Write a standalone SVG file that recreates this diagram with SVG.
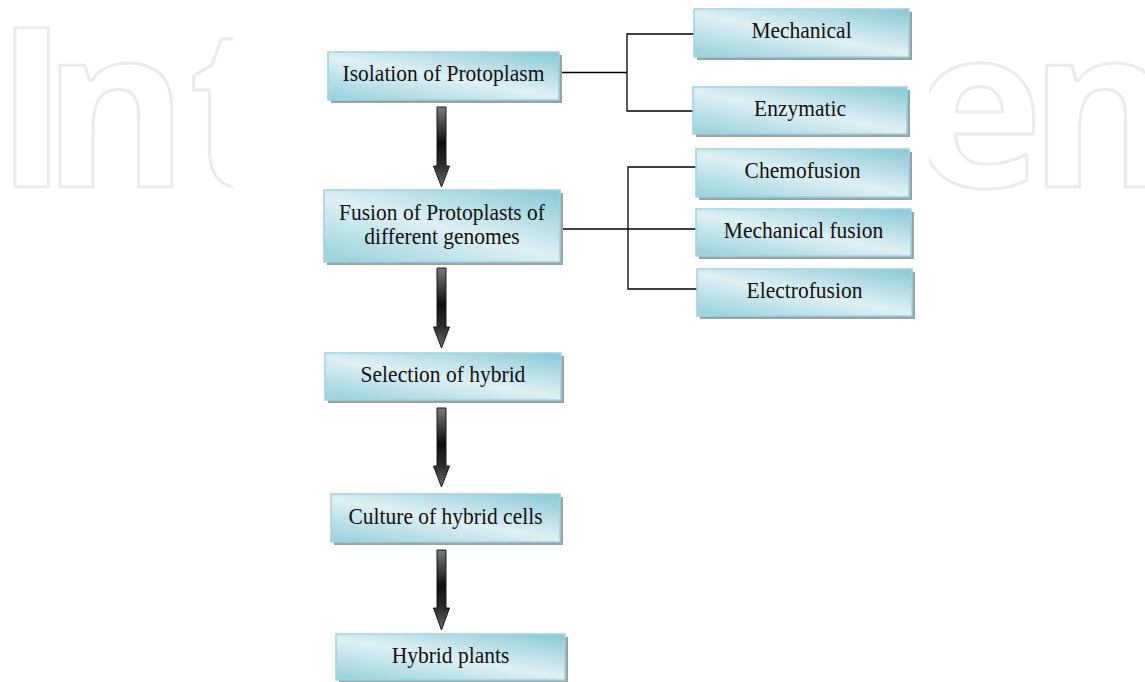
<svg xmlns="http://www.w3.org/2000/svg" width="1145" height="682" viewBox="0 0 1145 682">
  <defs>
    <linearGradient id="boxGrad" x1="1" y1="0" x2="0.15" y2="1">
      <stop offset="0" stop-color="#88c8d6"/>
      <stop offset="0.55" stop-color="#def0f5"/>
      <stop offset="1" stop-color="#9fd5e0"/>
    </linearGradient>
    <linearGradient id="arrowGrad" x1="0" y1="0" x2="0" y2="1">
      <stop offset="0" stop-color="#7a7a7a"/>
      <stop offset="0.45" stop-color="#0e0e0e"/>
      <stop offset="0.72" stop-color="#2a2a2a"/>
      <stop offset="1" stop-color="#6a6a6a"/>
    </linearGradient>
    <clipPath id="wmClip">
      <rect x="0" y="0" width="233" height="682"/>
      <rect x="929" y="0" width="216" height="682"/>
    </clipPath>
  </defs>
  <style>
    .shadow { fill: #97a3a6; }
    .box { fill: url(#boxGrad); stroke: #9fd3df; stroke-width: 1.5; }
    .label { font-family: "Liberation Serif", "Times New Roman", serif; font-size: 21.5px; fill: #111; text-anchor: middle; }
    .conn { fill: none; stroke: #000; stroke-width: 1.3; }
    .arrow { fill: url(#arrowGrad); stroke: #1a1a1a; stroke-width: 1; }
    .wm { font-family: "Open Sans", "Liberation Sans", sans-serif; font-size: 222px; font-weight: 700; fill: none; stroke: #ebebeb; stroke-width: 3; stroke-linejoin: round; }
  </style>

  <rect x="0" y="0" width="1145" height="682" fill="#ffffff"/>

  <g id="watermark" clip-path="url(#wmClip)">
    <text class="wm" x="-3" y="187" dx="-2 -26 0">Int</text>
    <text class="wm" x="905" y="187" dx="7 -14">en</text>
  </g>

  <g id="connectors">
    <path class="conn" d="M559,72.5 H627" stroke-width="2"/>
    <path class="conn" d="M694,34 H627 V111 H693"/>
    <path class="conn" d="M560,229 H696"/>
    <path class="conn" d="M696,167 H628 V289 H697"/>
    <path class="arrow" d="M437,107 H446 V166 H449.5 L441.5,187 L433.5,166 H437 Z"/>
    <path class="arrow" d="M437,268 H446 V327 H449.5 L441.5,348 L433.5,327 H437 Z"/>
    <path class="arrow" d="M437,408 H446 V466 H449.5 L441.5,487 L433.5,466 H437 Z"/>
    <path class="arrow" d="M437,550 H446 V608 H449.5 L441.5,630 L433.5,608 H437 Z"/>
  </g>

  <g id="isolation">
    <rect class="shadow" x="331" y="55" width="231" height="48"/>
    <rect class="box" x="328" y="52" width="231" height="48"/>
    <text class="label" transform="translate(443.5,81) scale(1,1.1)">Isolation of Protoplasm</text>
  </g>

  <g id="mechanical">
    <rect class="shadow" x="697" y="12" width="215" height="48"/>
    <rect class="box" x="694" y="9" width="215" height="48"/>
    <text class="label" transform="translate(801.5,38) scale(1,1.1)">Mechanical</text>
  </g>

  <g id="enzymatic">
    <rect class="shadow" x="696" y="90" width="214" height="47"/>
    <rect class="box" x="693" y="87" width="214" height="47"/>
    <text class="label" transform="translate(800,116) scale(1,1.1)">Enzymatic</text>
  </g>

  <g id="fusion">
    <rect class="shadow" x="327" y="193" width="236" height="72"/>
    <rect class="box" x="324" y="190" width="236" height="72"/>
    <text class="label" transform="translate(442,220) scale(1,1.1)">Fusion of Protoplasts of</text>
    <text class="label" transform="translate(442,244) scale(1,1.1)">different genomes</text>
  </g>

  <g id="chemofusion">
    <rect class="shadow" x="699" y="152" width="213" height="48"/>
    <rect class="box" x="696" y="149" width="213" height="48"/>
    <text class="label" transform="translate(802.5,178) scale(1,1.1)">Chemofusion</text>
  </g>

  <g id="mechanical-fusion">
    <rect class="shadow" x="699" y="212" width="215" height="47"/>
    <rect class="box" x="696" y="209" width="215" height="47"/>
    <text class="label" transform="translate(803.5,238) scale(1,1.1)">Mechanical fusion</text>
  </g>

  <g id="electrofusion">
    <rect class="shadow" x="700" y="272" width="215" height="47"/>
    <rect class="box" x="697" y="269" width="215" height="47"/>
    <text class="label" transform="translate(804.5,298) scale(1,1.1)">Electrofusion</text>
  </g>

  <g id="selection">
    <rect class="shadow" x="328" y="356" width="236" height="47"/>
    <rect class="box" x="325" y="353" width="236" height="47"/>
    <text class="label" transform="translate(443,382) scale(1,1.1)">Selection of hybrid</text>
  </g>

  <g id="culture">
    <rect class="shadow" x="334" y="497" width="229" height="48"/>
    <rect class="box" x="331" y="494" width="229" height="48"/>
    <text class="label" transform="translate(445.5,524) scale(1,1.1)">Culture of hybrid cells</text>
  </g>

  <g id="hybrid-plants">
    <rect class="shadow" x="339" y="637" width="229" height="46"/>
    <rect class="box" x="336" y="634" width="229" height="46"/>
    <text class="label" transform="translate(450.5,663) scale(1,1.1)">Hybrid plants</text>
  </g>
</svg>
